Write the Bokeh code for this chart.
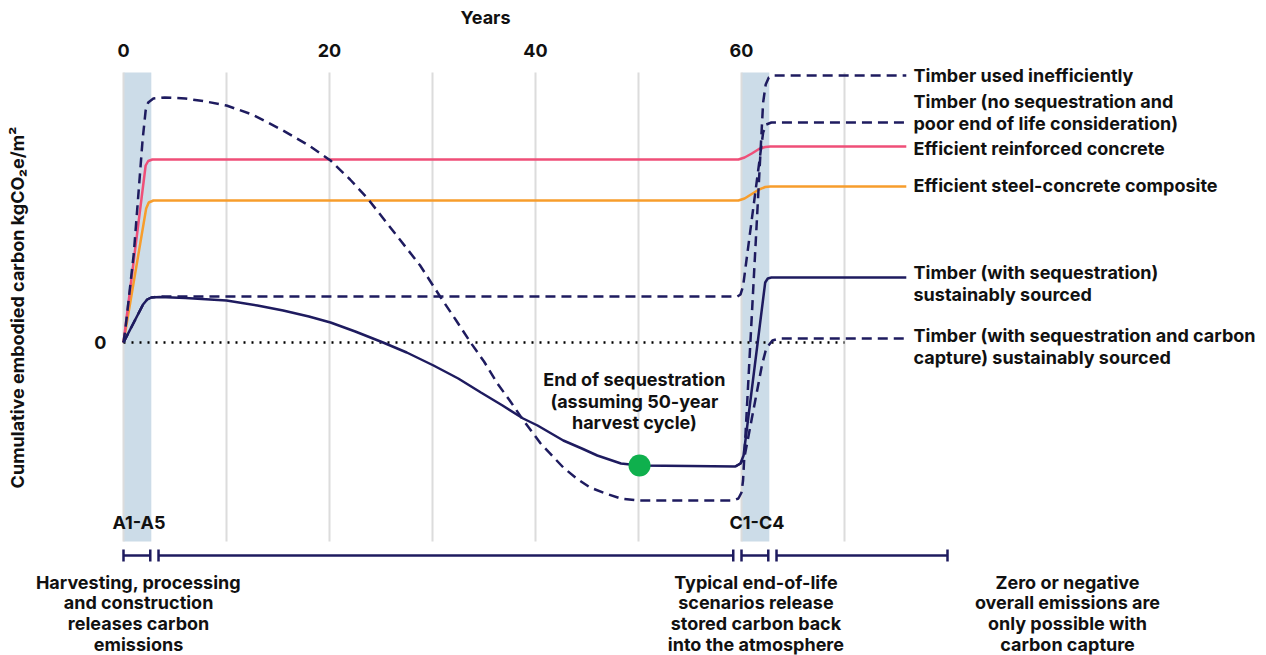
import math
from bokeh.plotting import figure
from bokeh.models import Range1d, Label
from bokeh.core.properties import value
from bokeh.embed import file_html
from bokeh.resources import INLINE

# ---------------- data (years, cumulative embodied carbon, arbitrary units) ----------------
years_ticks = [0, 20, 40, 60]
grid_years = [0, 10, 20, 30, 40, 50, 60, 70]
stage_left = [0, 60]
stage_right = [2.7, 62.7]
stage_names = ["A1-A5", "C1-C4"]

inefficient_x = [0, 0.2, 1.0, 1.85, 2.15, 2.4, 2.9, 4, 6, 8, 10, 12.5, 15.5, 18, 20.1, 22, 23.7,
                 25.3, 26.9, 28.8, 30.8, 32.3, 33.7, 35, 36.3, 37.5, 38.7, 40.5, 42.7, 44, 45.3,
                 46.8, 48.3, 50, 52, 59.2, 59.7, 60.0, 60.15, 62.1, 62.35, 62.65, 63.1, 76]
inefficient_y = [0, 15, 89, 202, 232, 240, 244, 245, 244, 241, 237, 228, 212, 197, 182, 163, 144,
                 123, 102, 77, 45, 22, 0, -19, -41, -58, -76, -101, -125, -136, -145,
                 -151, -156, -158, -158, -158, -156, -150, -138, 240, 258, 265, 267, 267]

noseq_x = [0, 1.0, 1.9, 2.3, 2.7, 3.5, 59.6, 59.9, 60.15, 62.1, 62.4, 62.9, 76]
noseq_y = [0, 20, 38, 43, 45, 46, 46, 48, 56, 210, 218, 220, 220]

reinforced_x = [0, 2.15, 2.4, 2.8, 59.7, 60.3, 61.0, 61.7, 62.3, 62.8, 76]
reinforced_y = [0, 177, 181.5, 183, 183, 185, 189, 193.5, 195.5, 196, 196]

composite_x = [0, 2.2, 2.45, 2.9, 59.7, 60.3, 61.0, 61.7, 62.3, 62.8, 76]
composite_y = [0, 134, 140, 142, 142, 144, 148.5, 153, 155.5, 156, 156]

seq_x = [0, 1.0, 1.9, 2.3, 2.7, 3.5, 6, 10, 13, 15.5, 18, 20.1, 22.5, 25.2, 27.5, 30.1, 32.5,
         34.7, 36.8, 38.8, 40.2, 42.7, 44.5, 46, 48.3, 50.1, 55, 59.4, 59.9, 60.2, 62.3, 62.55,
         62.9, 76]
seq_y = [0, 20, 38, 43, 45, 45.5, 44.5, 42, 37, 32, 26, 20, 11, 0, -10, -23, -36,
         -50, -63, -76, -83, -98, -106, -113, -121, -123, -123.5, -124, -121, -113, 60, 64,
         65, 65]

capture_x = [59.4, 59.9, 60.3, 62.0, 62.4, 63.0, 63.7, 76]
capture_y = [-124, -121, -114, -22, -6, 2, 4, 4]

harvest_end_x = [50.1]
harvest_end_y = [-123]

bracket_start = [0, 3.4, 60, 63.4]
bracket_end = [2.6, 59.2, 62.6, 80]

series_labels = [
    ["Timber used inefficiently"],
    ["Timber (no sequestration and", "poor end of life consideration)"],
    ["Efficient reinforced concrete"],
    ["Efficient steel-concrete composite"],
    ["Timber (with sequestration)", "sustainably sourced"],
    ["Timber (with sequestration and carbon", "capture) sustainably sourced"],
]
series_label_y = [267, 241, 194, 157, 70, 7]

stage_notes = [
    ["Harvesting, processing", "and construction", "releases carbon", "emissions"],
    ["Typical end-of-life", "scenarios release", "stored carbon back", "into the atmosphere"],
    ["Zero or negative", "overall emissions are", "only possible with", "carbon capture"],
]
stage_note_x = [1.46, 61.4, 91.65]

seq_note = ["End of sequestration", "(assuming 50-year", "harvest cycle)"]

# ---------------- style ----------------
FONT = "Inter"
FS = "18px"
NAVY = "#1e1b5f"
PINK = "#ef4f78"
ORANGE = "#f79d2c"
GREEN = "#0fb04d"
BAND = "#ccdce8"
GRID = "#dcdcdc"
TEXT = "#111111"

PX_PER_YEAR = 10.3
x0_px = 123.0
W, H = 1266, 655
p = figure(width=W, height=H, output_backend="svg", toolbar_location=None,
           x_range=Range1d(-x0_px / PX_PER_YEAR, (W - x0_px) / PX_PER_YEAR),
           y_range=Range1d(342 - H, 342),
           x_axis_location=None, y_axis_location=None,
           min_border_left=0, min_border_right=0, min_border_top=0, min_border_bottom=0)
p.outline_line_color = None
p.xgrid.visible = False
p.ygrid.visible = False
p.background_fill_color = "white"

GRID_TOP, GRID_BOTTOM = 270, -199

# stage bands
p.quad(left=stage_left, right=stage_right, bottom=GRID_BOTTOM, top=GRID_TOP,
       fill_color=BAND, line_color=None)
# gridlines
p.segment(x0=grid_years, y0=[GRID_BOTTOM] * len(grid_years), x1=grid_years,
          y1=[GRID_TOP] * len(grid_years), line_color=GRID, line_width=2)
# zero line
p.line([0, 70], [0, 0], line_color="#000000", line_width=2.3, line_dash="2 6")

DASH = "10 6"
p.line(composite_x, composite_y, line_color=ORANGE, line_width=2.5)
p.line(reinforced_x, reinforced_y, line_color=PINK, line_width=2.5)
p.line(noseq_x, noseq_y, line_color=NAVY, line_width=2.5, line_dash=DASH)
p.line(inefficient_x, inefficient_y, line_color=NAVY, line_width=2.5, line_dash=DASH)
p.line(capture_x, capture_y, line_color=NAVY, line_width=2.5, line_dash=DASH)
p.line(seq_x, seq_y, line_color=NAVY, line_width=2.5)
p.scatter(harvest_end_x, harvest_end_y, size=22, fill_color=GREEN, line_color=None)

# brackets
BR_Y = -213
p.segment(x0=bracket_start, y0=[BR_Y] * 4, x1=bracket_end, y1=[BR_Y] * 4,
          line_color=NAVY, line_width=2.5)
caps = bracket_start + bracket_end
p.segment(x0=caps, y0=[BR_Y - 6] * len(caps), x1=caps, y1=[BR_Y + 6] * len(caps),
          line_color=NAVY, line_width=2.5)

# axis tick labels (top: years, left: zero)
p.text(x=years_ticks, y=[292] * len(years_ticks), text=[str(t) for t in years_ticks],
       text_align="center", text_baseline="middle", text_font=value(FONT),
       text_font_style="bold", text_font_size=FS, text_color=TEXT)
p.text(x=[-2.25], y=[0], text=["0"], text_align="center", text_baseline="middle",
       text_font=value(FONT), text_font_style="bold", text_font_size=FS, text_color=TEXT)


def add_text(x, y, txt, align="left", angle=0.0, size=FS):
    p.add_layout(Label(x=x, y=y, text=txt, text_align=align, text_baseline="middle",
                       text_font=FONT, text_font_style="bold", text_font_size=size,
                       text_color=TEXT, angle=angle))


LINE_GAP = 21.5
# series labels on the right
for lines, y0 in zip(series_labels, series_label_y):
    for i, t in enumerate(lines):
        add_text(76.7, y0 - i * LINE_GAP, t)

# stage names
for name, l, r in zip(stage_names, stage_left, stage_right):
    add_text((l + r) / 2 + 0.15, -180, name, align="center")

# notes below
for lines, x0 in zip(stage_notes, stage_note_x):
    for i, t in enumerate(lines):
        add_text(x0, -239.5 - i * 20.9, t, align="center")

# end of sequestration note
for i, t in enumerate(seq_note):
    add_text(49.6, -37 - i * 21.5, t, align="center")

# titles
add_text(35.15, 325, "Years", align="center")
add_text(-10.29, 35, "Cumulative embodied carbon kgCO₂e/m²", align="center", angle=math.pi / 2)

open("out.html", "w").write(file_html(p, INLINE))
